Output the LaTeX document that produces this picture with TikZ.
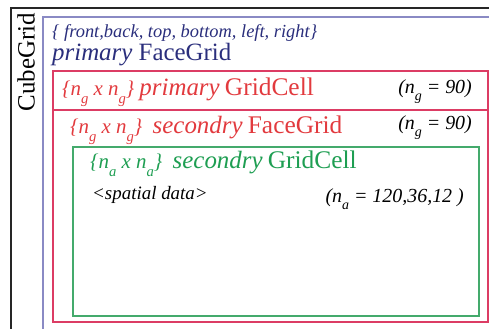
\documentclass[tikz,border=0pt]{standalone}
\usepackage{fontspec}
\setmainfont{Liberation Serif}
\usepackage{graphicx}
\definecolor{gridnavy}{HTML}{2A2E7C}
\definecolor{gridblue}{HTML}{8A8AC4}
\definecolor{gridred}{HTML}{E23A3E}
\definecolor{cellred}{HTML}{DC3C64}
\definecolor{gridgreen}{HTML}{1E9E52}
\definecolor{cellgreen}{HTML}{44AA6C}
\newcommand{\lowsub}[1]{\raisebox{-0.4em}{\scalebox{0.7}{#1}}}
\newcommand{\fs}[1]{\fontsize{#1}{#1}\selectfont}
\tikzset{
  txt/.style={anchor=base west, inner sep=0pt},
  rtxt/.style={anchor=base east, inner sep=0pt, font=\fs{20}\itshape},
  box/.style={line width=1.3bp}
}
\begin{document}
\begin{tikzpicture}[x=1bp,y=-1bp]
\useasboundingbox (0,0) rectangle (489,328);
\clip (0,0) rectangle (489,328);
% nested boxes
\draw[box, black!85] (11,8) rectangle (500,340);
\draw[box, gridblue] (43,17) rectangle (500,340);
\draw[box, cellred] (53,71) rectangle (488,322);
\draw[box, cellred] (53,110) -- (488,110);
\draw[box, cellgreen] (73,147) rectangle (479,316);
% labels
\node[rotate=90, inner sep=0pt, font=\fs{25}] (cube) at (26,62) {CubeGrid};
\node[txt, gridnavy, font=\fs{18.5}\itshape] (faces) at (52,37.5)
  {\{ front,back, top, bottom, left, right\}};
\node[txt, gridnavy, font=\fs{25}] (pface) at (52,60) {\textit{primary} FaceGrid};
\node[txt, gridred, font=\fs{21}\itshape] (pcell) at (62,95)
  {\{n\lowsub{g} x n\lowsub{g}\} {\fs{25}primary} {\fs{25.5}\upshape GridCell}};
\node[rtxt] (ng1) at (472,93) {(n\lowsub{g} = 90)};
\node[txt, gridred, font=\fs{21}\itshape] (sface) at (70,133)
  {\{n\lowsub{g} x n\lowsub{g}\}\ \ {\fs{25}secondry} {\fs{25.5}\upshape FaceGrid}};
\node[rtxt] (ng2) at (472,129) {(n\lowsub{g} = 90)};
\node[txt, gridgreen, font=\fs{21}\itshape] (scell) at (90,168)
  {\{n\lowsub{a} x n\lowsub{a}\}\ \ {\fs{25}secondry} {\fs{25.5}\upshape GridCell}};
\node[txt, font=\fs{19}\itshape] (data) at (92,199) {<spatial data>};
\node[rtxt] (na) at (464,202) {(n\lowsub{a} = 120,36,12 )};
\end{tikzpicture}
\end{document}
